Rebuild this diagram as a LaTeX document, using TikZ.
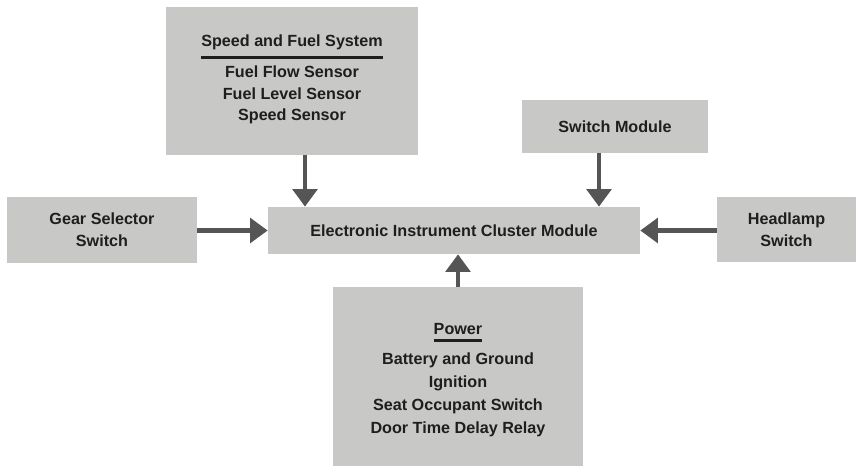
\documentclass[tikz,border=0pt]{standalone}
\usepackage{fontspec}
\setmainfont{Liberation Sans}
\usepackage{xcolor}
\usetikzlibrary{arrows.meta,positioning,calc}
\definecolor{boxgray}{RGB}{200,200,198}
\definecolor{inkgray}{RGB}{85,85,85}
\definecolor{txtgray}{RGB}{30,30,30}
\newcommand{\hdrule}[1]{\setbox0\hbox{#1}\vtop{\copy0\kern3pt\hrule height 1.7pt}}

\begin{document}
\begin{tikzpicture}[
  x=0.02cm,y=-0.02cm,
  every node/.style={font=\fontsize{9.2}{12.4}\selectfont\bfseries,text=txtgray},
  blk/.style={fill=boxgray,inner sep=2pt,align=center},
  arr/.style={-{Triangle[length=10pt,width=14pt]},line width=2.3pt,draw=inkgray}
]
  \useasboundingbox (0,0) rectangle (856,466);
  \node[blk,minimum width=5.04cm,minimum height=2.96cm] (speed) at (292,81)
    {\hdrule{Speed and Fuel System}\\[3pt]Fuel Flow Sensor\\Fuel Level Sensor\\Speed Sensor\\[-9pt]};
  \node[blk,minimum width=3.8cm,minimum height=1.32cm] (gear) at (102,230) {Gear Selector\\Switch};
  \node[blk,minimum width=7.44cm,minimum height=0.94cm] (eic) at (454,230.5) {Electronic Instrument Cluster Module};
  \node[blk,minimum width=3.72cm,minimum height=1.06cm] (sw) at (615,126.5) {Switch Module};
  \node[blk,minimum width=2.78cm,minimum height=1.3cm] (head) at (786.5,229.5) {Headlamp\\Switch};
  \node[blk,minimum width=5cm,minimum height=3.58cm] (power) at (458,376.5)
    {\hdrule{\rule{0pt}{10pt}Power}\\[5pt]Battery and Ground\\[0.6pt]Ignition\\[0.6pt]Seat Occupant Switch\\[0.6pt]Door Time Delay Relay};

  % inputs to the cluster module
  \draw[arr] ([xshift=0.26cm]speed.south) -- ([xshift=0.26cm]speed.south |- eic.north);
  \draw[arr] ([xshift=-0.32cm]sw.south) -- ([xshift=-0.32cm]sw.south |- eic.north);
  \draw[arr] (gear.east |- eic.west) -- (eic.west);
  \draw[arr] (head.west |- eic.east) -- (eic.east);
  \draw[arr] (power.north) -- (power.north |- eic.south);
\end{tikzpicture}
\end{document}
